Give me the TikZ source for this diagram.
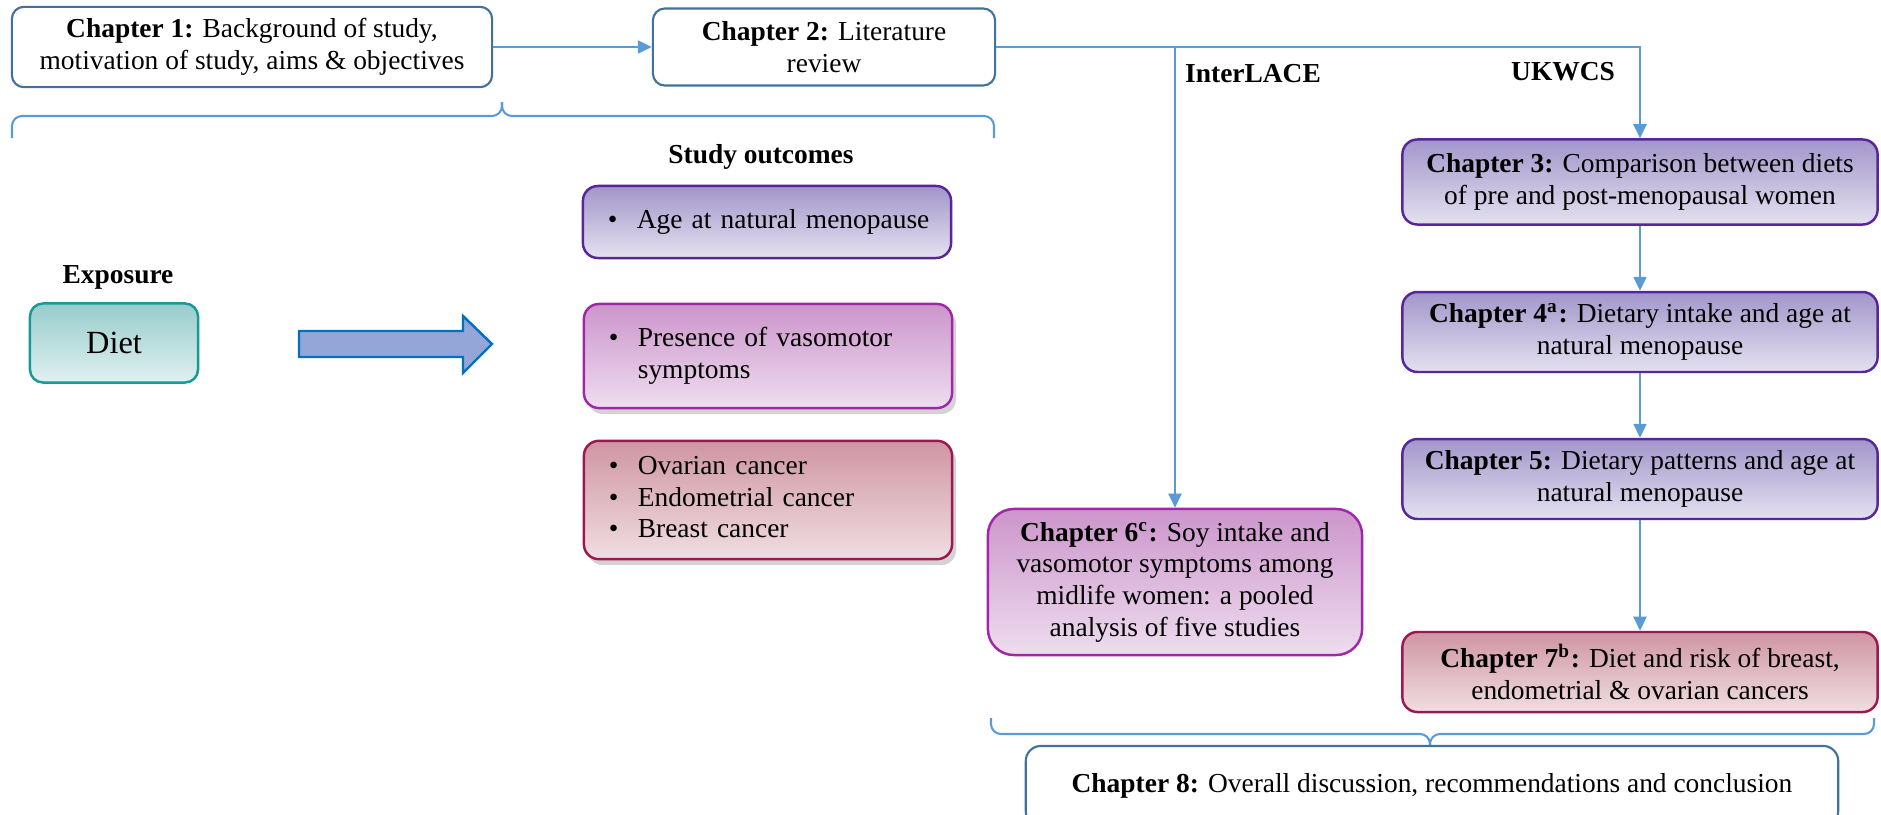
\documentclass[tikz,border=0pt]{standalone}
\usepackage{fontspec}
\setmainfont{Liberation Serif}
\usepackage{tikz}
\usetikzlibrary{positioning,shadows,arrows.meta}
\definecolor{lineblue}{RGB}{91,155,213}
\definecolor{boxblue}{RGB}{65,113,156}
\definecolor{tealline}{RGB}{24,152,150}
\definecolor{tealtop}{RGB}{152,204,204}
\definecolor{tealbot}{RGB}{224,240,240}
\definecolor{arrline}{RGB}{0,112,192}
\definecolor{arrfill}{RGB}{148,166,216}
\definecolor{purpline}{RGB}{88,38,152}
\definecolor{purptop}{RGB}{162,150,202}
\definecolor{purpbot}{RGB}{228,225,240}
\definecolor{magline}{RGB}{160,40,168}
\definecolor{magtop}{RGB}{204,149,203}
\definecolor{magbot}{RGB}{238,221,239}
\definecolor{redline}{RGB}{155,25,80}
\definecolor{redtop}{RGB}{207,149,162}
\definecolor{redbot}{RGB}{240,222,226}

\begin{document}
\begin{tikzpicture}[%
    x=0.01cm, y=-0.01cm,
    font=\fontsize{7.8}{9}\selectfont,
    >={Triangle[length=1.4mm,width=1.3mm]},
    line/.style   = {draw=lineblue, line width=0.6pt},
    chap/.style   = {draw=boxblue, line width=0.6pt, rounded corners=1.2mm, align=center, fill=white},
    block1/.style = {draw=purpline, line width=0.7pt, rounded corners=1.5mm, top color=purptop, bottom color=purpbot, align=center},
    block2/.style = {draw=magline, line width=0.7pt, rounded corners=1.5mm, top color=magtop, bottom color=magbot, align=center},
    block3/.style = {draw=redline, line width=0.7pt, rounded corners=1.5mm, top color=redtop, bottom color=redbot, align=center},
    diet/.style   = {draw=tealline, line width=0.7pt, rounded corners=1.3mm, top color=tealtop, bottom color=tealbot},
    outc/.style   = {align=left, inner xsep=2.5mm, text width=3.18cm, minimum width=3.68cm},
    shade/.style  = {drop shadow={shadow xshift=0.4mm, shadow yshift=-0.6mm, opacity=0.35}},
    head/.style   = {font=\fontsize{7.8}{9}\selectfont\bfseries},
    brace/.style  = {line, rounded corners=1mm}]

  \clip (0,0) rectangle (1881,815);

  % top row
  \draw (252,47) node[chap, minimum width=4.8cm, minimum height=0.77cm] (ch1)
    {\textbf{Chapter 1:} Background of study,\\ motivation of study, aims \& objectives};
  \draw (824,47) node[chap, minimum width=3.42cm, minimum height=0.77cm] (ch2)
    {\textbf{Chapter 2:} Literature\\ review};
  \draw [line,->] (ch1) -- (ch2);

  % brace under chapters 1 and 2
  \coordinate (tl) at (12,138);
  \coordinate (tr) at (994,138);
  \coordinate (ttip) at (502,102);
  \draw [brace] (tl) -- (12,116) -- (502,116) -- (ttip);
  \draw [brace] (tr) -- (994,116) -- (502,116) -- (ttip);

  % exposure and outcomes
  \draw (118,277) node[head] (expo) {Exposure};
  \draw (114,343) node[diet, minimum width=1.68cm, minimum height=0.79cm,
        font=\fontsize{9.2}{11}\selectfont] (diet) {Diet};
  \draw [draw=arrline, line width=0.7pt, fill=arrfill]
    (299,331) -- (463,331) -- (463,316) -- (492,344) -- (463,373) -- (463,357) -- (299,357) -- cycle;

  \draw (761,157) node[head] (stud) {Study outcomes};
  \draw (767,222) node[block1, outc, minimum height=0.72cm] (out1)
    {\begin{tabular}{@{}l@{\hspace{5.5pt}}l@{}}\textbullet & Age at natural menopause\end{tabular}};
  \draw (768,356) node[block2, outc, shade, minimum height=1.04cm] (out2)
    {\begin{tabular}{@{}l@{\hspace{5.5pt}}l@{}}\textbullet & Presence of vasomotor\\ & symptoms\end{tabular}};
  \draw (768,500) node[block3, outc, shade, minimum height=1.09cm] (out3)
    {\begin{tabular}{@{}l@{\hspace{5.5pt}}l@{}}\textbullet & Ovarian cancer\\ \textbullet & Endometrial cancer\\ \textbullet & Breast cancer\end{tabular}};

  % cohorts
  \draw (1253,74) node[head] (inter) {InterLACE};
  \draw (1563,72) node[head] (ukw) {UKWCS};

  % chapters 3 to 7
  \draw (1640,182) node[block1, minimum width=4.75cm, minimum height=0.85cm] (ch3)
    {\textbf{Chapter 3:} Comparison between diets\\ of pre and post-menopausal women};
  \draw (1640,332) node[block1, minimum width=4.75cm, minimum height=0.71cm] (ch4)
    {\textbf{Chapter 4\textsuperscript{a}:} Dietary intake and age at\\ natural menopause};
  \draw (1640,479) node[block1, minimum width=4.75cm, minimum height=0.79cm] (ch5)
    {\textbf{Chapter 5:} Dietary patterns and age at\\ natural menopause};
  \draw (1640,672) node[block3, minimum width=4.75cm, minimum height=0.8cm] (ch7)
    {\textbf{Chapter 7\textsuperscript{b}:} Diet and risk of breast,\\ endometrial \& ovarian cancers};
  \draw (1175,582) node[block2, rounded corners=2.6mm, minimum width=3.74cm, minimum height=1.46cm] (ch6)
    {\textbf{Chapter 6\textsuperscript{c}:} Soy intake and\\ vasomotor symptoms among\\ midlife women: a pooled\\ analysis of five studies};

  \coordinate (split) at (ch2.east -| ch6.north);
  \draw [line,->] (ch2) -| (ch3);
  \draw [line,->] (split) -- (ch6);
  \draw [line,->] (ch3) -- (ch4);
  \draw [line,->] (ch4) -- (ch5);
  \draw [line,->] (ch5) -- (ch7);

  % brace over chapter 8
  \coordinate (bl) at (991,718);
  \coordinate (br) at (1874,718);
  \coordinate (btip) at (1430,746);
  \draw [brace] (bl) -- (991,734) -- (1430,734) -- (btip);
  \draw [brace] (br) -- (1874,734) -- (1430,734) -- (btip);
  \draw (1432,786) node[chap, rounded corners=1.5mm, minimum width=8.12cm, minimum height=0.8cm] (ch8)
    {\textbf{Chapter 8:} Overall discussion, recommendations and conclusion};

\end{tikzpicture}
\end{document}
